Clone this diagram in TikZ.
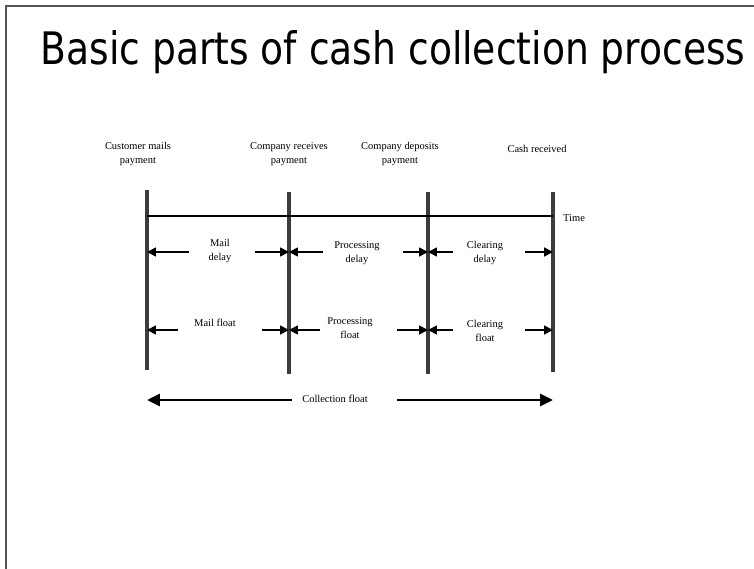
\documentclass[tikz,border=0pt]{standalone}
\usepackage{fontspec}
\usepackage{graphicx}
\setmainfont{Liberation Serif}
\newfontfamily\titlefont{DejaVu Sans Condensed}
\usetikzlibrary{arrows.meta}
\definecolor{framegray}{RGB}{85,85,85}
\definecolor{bargray}{RGB}{60,60,60}

\tikzset{
  bar/.style={line width=4pt, draw=bargray},
  lbl/.style={font=\fontsize{10.5}{14}\selectfont, align=center, inner sep=0pt},
  tick/.style={-{Triangle[length=9pt,width=9pt]}, line width=1.8pt},
  span/.style={-{Triangle[length=13pt,width=12pt]}, line width=3pt},
}

\begin{document}
\begin{tikzpicture}[x=1bp,y=-1bp]
\useasboundingbox (0,0) rectangle (754,569);
% slide frame
\draw[framegray, line width=2pt] (6,569) -- (6,6) -- (754,6);
\node[font=\titlefont\fontsize{42}{42}\selectfont, anchor=base, inner sep=0pt] (title) at (393,65) {\scalebox{1}[1.07]{Basic parts of cash collection process}};

% the four event lines
\foreach \n/\x/\top/\bot in {1/147/190/370, 2/289/192/374, 3/428/192/374, 4/553/192/372} {
  \coordinate (t\n) at (\x,\top);
  \coordinate (b\n) at (\x,\bot);
  \coordinate (m\n) at (\x,216);
  \coordinate (d\n) at (\x,252);
  \coordinate (f\n) at (\x,330);
  \coordinate (c\n) at (\x,400);
  \draw[bar] (t\n) -- (b\n);
}
\draw[line width=3pt] (m1) -- (m4);
\node[lbl, anchor=west] (time) at (563,218) {Time};

\node[lbl] (ev1) at (138,154) {Customer mails\\payment};
\node[lbl] (ev2) at (289,154) {Company receives\\payment};
\node[lbl] (ev3) at (400,154) {Company deposits\\payment};
\node[lbl] (ev4) at (537,149) {Cash received};

% delays
\node[lbl] (maild) at (220,251) {Mail\\delay};
\node[lbl] (procd) at (357,253) {Processing\\delay};
\node[lbl] (cleard) at (485,253) {Clearing\\delay};
\foreach \s/\n [count=\i] in {189/1,255/2,323/2,403/3,453/3,525/4} {
  \coordinate (ds\i) at (\s,252);
  \draw[tick] (ds\i) -- (d\n);
}

% floats
\node[lbl] (mailf) at (215,323) {Mail float};
\node[lbl] (procf) at (350,328) {Processing\\float};
\node[lbl] (clearf) at (485,331) {Clearing\\float};
\foreach \s/\n [count=\i] in {178/1,262/2,320/2,397/3,453/3,525/4} {
  \coordinate (fs\i) at (\s,330);
  \draw[tick] (fs\i) -- (f\n);
}

% collection float
\node[lbl] (collf) at (335,399) {Collection float};
\coordinate (cl) at (292,400);
\coordinate (cr) at (397,400);
\draw[span] (cl) -- (c1);
\draw[span] (cr) -- (c4);
\end{tikzpicture}
\end{document}
